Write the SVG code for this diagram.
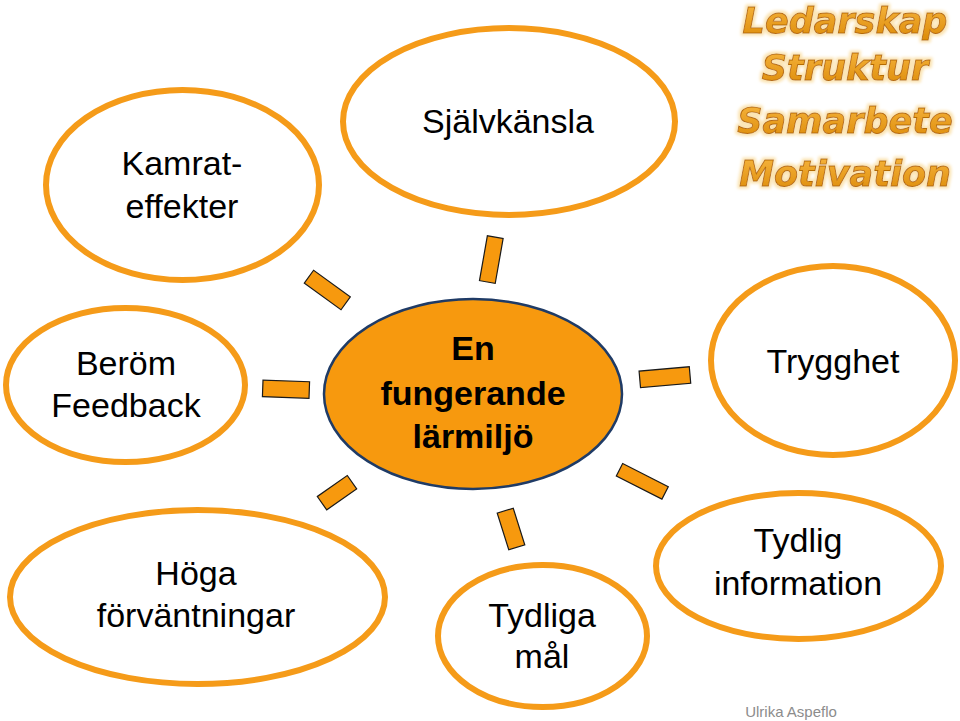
<svg xmlns="http://www.w3.org/2000/svg" width="960" height="721" viewBox="0 0 960 721">
<style>
.bub{fill:#ffffff;stroke:#F59B19;stroke-width:6}
.lbl{font-family:"Liberation Sans",Arial,sans-serif;font-size:34px;fill:#000;text-anchor:middle}
.ctr{font-family:"Liberation Sans",Arial,sans-serif;font-size:34px;font-weight:bold;fill:#000;text-anchor:middle}
.ray{fill:#F7990E;stroke:#1a1a1a;stroke-width:1.2}
.wa{font-family:"DejaVu Sans",Verdana,sans-serif;font-size:35px;font-weight:bold;font-style:italic;fill:url(#waGrad);stroke:#B66C00;stroke-width:0.9;text-anchor:middle;filter:url(#glow)}
</style>
<defs>
<linearGradient id="waGrad" x1="0" y1="0" x2="0" y2="1">
<stop offset="0" stop-color="#F7B640"/>
<stop offset="1" stop-color="#DC8A08"/>
</linearGradient>
<filter id="glow" x="-10%" y="-30%" width="120%" height="160%">
<feMorphology in="SourceAlpha" operator="dilate" radius="2" result="d"/>
<feGaussianBlur in="d" stdDeviation="1.5" result="b"/>
<feFlood flood-color="#FBE3B0"/>
<feComposite in2="b" operator="in" result="g"/>
<feMerge><feMergeNode in="g"/><feMergeNode in="SourceGraphic"/></feMerge>
</filter>
</defs>
<rect width="960" height="721" fill="#ffffff"/>

<g id="connectors">
<rect class="ray" x="-8" y="-22.75" width="16" height="45.5" transform="translate(491.3,259.6) rotate(10)"/>
<rect class="ray" x="-22.7" y="-7.9" width="45.4" height="15.8" transform="translate(327.3,290) rotate(36)"/>
<rect class="ray" x="-23.3" y="-8.3" width="46.6" height="16.6" transform="translate(286,389.2) rotate(2)"/>
<rect class="ray" x="-18.3" y="-8.2" width="36.6" height="16.4" transform="translate(337,492.7) rotate(-35)"/>
<rect class="ray" x="-8.4" y="-19.2" width="16.8" height="38.4" transform="translate(511,529) rotate(-17.5)"/>
<rect class="ray" x="-25.6" y="-7" width="51.2" height="14" transform="translate(642.3,481.3) rotate(27)"/>
<rect class="ray" x="-25.2" y="-8.3" width="50.4" height="16.6" transform="translate(664.9,377.2) rotate(-5)"/>
</g>

<g id="center">
<ellipse cx="473" cy="394" rx="149" ry="95" fill="#F7990E" stroke="#1F3B66" stroke-width="2.5"/>
<text class="ctr" x="473" y="360">En</text>
<text class="ctr" x="473" y="405">fungerande</text>
<text class="ctr" x="473" y="448">lärmiljö</text>
</g>

<g id="kamrateffekter">
<ellipse class="bub" cx="182.5" cy="185" rx="136.5" ry="95"/>
<text class="lbl" x="182" y="175">Kamrat-</text>
<text class="lbl" x="182" y="218">effekter</text>
</g>

<g id="sjalvkansla">
<ellipse class="bub" cx="509" cy="121.5" rx="166" ry="93.5"/>
<text class="lbl" x="508" y="133">Självkänsla</text>
</g>

<g id="berom">
<ellipse class="bub" cx="125.5" cy="385" rx="119.5" ry="77"/>
<text class="lbl" x="126" y="375">Beröm</text>
<text class="lbl" x="126" y="417">Feedback</text>
</g>

<g id="trygghet">
<ellipse class="bub" cx="833" cy="360.5" rx="122" ry="94.5"/>
<text class="lbl" x="833" y="373">Trygghet</text>
</g>

<g id="hoga">
<ellipse class="bub" cx="197.5" cy="597" rx="187.5" ry="87"/>
<text class="lbl" x="196" y="585">Höga</text>
<text class="lbl" x="196" y="627">förväntningar</text>
</g>

<g id="tydliga">
<ellipse class="bub" cx="542.5" cy="636" rx="104.5" ry="71"/>
<text class="lbl" x="542" y="627">Tydliga</text>
<text class="lbl" x="542" y="668">mål</text>
</g>

<g id="tydliginfo">
<ellipse class="bub" cx="798.5" cy="566" rx="142.5" ry="73"/>
<text class="lbl" x="798" y="552">Tydlig</text>
<text class="lbl" x="798" y="595">information</text>
</g>

<g id="wordart">
<text class="wa" x="845" y="33">Ledarskap</text>
<text class="wa" x="845" y="80">Struktur</text>
<text class="wa" x="845" y="133">Samarbete</text>
<text class="wa" x="845" y="186">Motivation</text>
</g>

<g id="author">
<text x="791" y="717" font-family="'Liberation Sans',Arial,sans-serif" font-size="15" fill="#8C8C8C" text-anchor="middle">Ulrika Aspeflo</text>
</g>
</svg>
